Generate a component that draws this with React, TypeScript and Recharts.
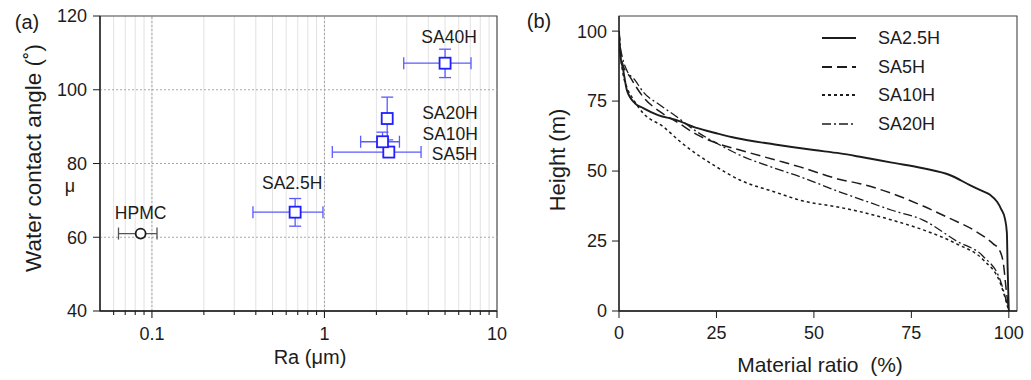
import React from "react";
import {
  CartesianGrid,
  ErrorBar,
  Legend,
  Line,
  LineChart,
  ReferenceArea,
  ReferenceLine,
  Scatter,
  ScatterChart,
  XAxis,
  YAxis,
} from "recharts";

const FONT = '"Liberation Sans", Arial, sans-serif';
const INK = "#1c1c1c";
const BLUE = "#1f1fff";
const BLUE_BAR = "#5a5aff";

// (a) water contact angle vs. Ra
const samples = ["HPMC", "SA2.5H", "SA5H", "SA10H", "SA20H", "SA40H"];
const raMean = [0.086, 0.676, 2.36, 2.17, 2.31, 5.0];
const raLow = [0.064, 0.385, 1.11, 1.62, 2.31, 2.88];
const raHigh = [0.107, 0.98, 3.63, 2.72, 2.31, 7.07];
const wcaMean = [61, 66.8, 83.1, 85.9, 92.2, 107.2];
const wcaLow = [61, 63, 82, 84.5, 86.4, 103.3];
const wcaHigh = [61, 70.5, 84, 88.5, 98, 111];

const raMajorTicks = [0.1, 1, 10];
const raMinorTicks = [
  0.06, 0.07, 0.08, 0.09, 0.2, 0.3, 0.4, 0.5, 0.6, 0.7, 0.8, 0.9, 2, 3, 4, 5,
  6, 7, 8, 9,
];
const wcaTicks = [40, 60, 80, 100, 120];
const wcaGrid = [60, 80, 100];

// (b) bearing-area curves
const ratioTicks = [0, 25, 50, 75, 100];
const heightTicks = [0, 25, 50, 75, 100];

const ratioSA25 = [0, 0.3, 1.1, 2, 4.1, 6.2, 10, 14.8, 19.9, 25, 30, 40, 50, 56.7, 61.8, 70, 78, 85, 90, 93, 95.2, 97, 98, 99, 99.5, 99.7, 100];
const heightSA25 = [100, 92, 86, 79, 74.2, 72.5, 70, 68.2, 65.4, 63.5, 61.8, 59.5, 57.5, 56.3, 55.1, 53, 51, 48.5, 45, 43, 41.5, 39, 36.5, 33, 28, 15, 0];
const ratioSA5 = [0, 0.3, 1, 2.8, 6.2, 10.5, 14.8, 20, 25, 31, 40, 46.4, 56.7, 61.8, 70, 78, 85, 90.9, 96, 97.5, 98.6, 99.3, 100];
const heightSA5 = [100, 94, 88, 83.7, 76.5, 71.2, 67.6, 63, 60, 57.5, 54, 51.5, 47, 45.5, 42, 37.5, 33, 29, 24, 22, 17, 8, 0];
const ratioSA10 = [0, 0.3, 1, 2, 3.5, 6.2, 11.4, 15.7, 20, 25, 31, 40, 46.4, 56.7, 61.8, 70, 78, 86.6, 93.5, 97.8, 100];
const heightSA10 = [100, 93, 85, 80, 76, 70.7, 65.8, 60.5, 56, 51.5, 46.8, 42.5, 39.6, 37, 35.5, 32.5, 29, 24, 18.2, 10, 0];
const ratioSA20 = [0, 0.3, 1, 2, 4.1, 6.2, 10.5, 14.8, 20, 25, 31, 40, 46.4, 56.7, 61.8, 70, 78, 86.6, 93.5, 97.8, 100];
const heightSA20 = [100, 95, 90, 86, 82.5, 78.3, 73.6, 69.4, 64, 60, 55.7, 51, 48, 42.5, 40, 36, 32.5, 25, 19.4, 11, 0];

const zip = (xs: number[], ys: number[]) => xs.map((x, i) => ({ x, y: ys[i] }));

const pointsA = samples.map((name, i) => ({
  name,
  x: raMean[i],
  y: wcaMean[i],
  xErr: [raMean[i] - raLow[i], raHigh[i] - raMean[i]],
  yErr: [wcaMean[i] - wcaLow[i], wcaHigh[i] - wcaMean[i]],
}));
const hpmc = pointsA.filter((p) => p.name === "HPMC");
const treated = pointsA.filter((p) => p.name !== "HPMC");

const curves = [
  { name: "SA2.5H", data: zip(ratioSA25, heightSA25), dash: undefined, width: 1.9 },
  { name: "SA5H", data: zip(ratioSA5, heightSA5), dash: "10 5", width: 1.5 },
  { name: "SA10H", data: zip(ratioSA10, heightSA10), dash: "3 3", width: 1.5 },
  { name: "SA20H", data: zip(ratioSA20, heightSA20), dash: "9 3 2 3", width: 1.3 },
];

// where each sample name sits relative to its marker
const labelPlacement: Record<string, { dx: number; dy: number; anchor: "start" | "middle" }> = {
  HPMC: { dx: 0, dy: -21, anchor: "middle" },
  "SA2.5H": { dx: -3, dy: -29, anchor: "middle" },
  SA5H: { dx: 43, dy: 2, anchor: "start" },
  SA10H: { dx: 40, dy: -8, anchor: "start" },
  SA20H: { dx: 35, dy: -6, anchor: "start" },
  SA40H: { dx: 4, dy: -26, anchor: "middle" },
};

function PointLabel({ cx, cy, name }: { cx: number; cy: number; name: string }) {
  const p = labelPlacement[name];
  return (
    <text x={cx + p.dx} y={cy + p.dy} dy="0.35em" textAnchor={p.anchor} fontSize={17.5} fontFamily={FONT} fill={INK}>
      {name}
    </text>
  );
}

function SquareMark(props: any) {
  const { cx, cy, payload } = props;
  return (
    <g>
      <rect x={cx - 5.5} y={cy - 5.5} width={11} height={11} fill="#fff" stroke={BLUE} strokeWidth={1.8} />
      <PointLabel cx={cx} cy={cy} name={payload.name} />
    </g>
  );
}

function CircleMark(props: any) {
  const { cx, cy, payload } = props;
  return (
    <g>
      <circle cx={cx} cy={cy} r={5} fill="#fff" stroke={INK} strokeWidth={1.8} />
      <PointLabel cx={cx} cy={cy} name={payload.name} />
    </g>
  );
}

function LogTick(props: any) {
  const { x, y, payload } = props;
  const major = raMajorTicks.includes(payload.value);
  return (
    <g>
      <line x1={x} y1={y} x2={x} y2={y + (major ? 7 : 4)} stroke={INK} strokeWidth={1.1} />
      {major && (
        <text x={x} y={y + 28.5} textAnchor="middle" fontSize={18} fontFamily={FONT} fill={INK}>
          {payload.value}
        </text>
      )}
    </g>
  );
}

const tickStyle = { fontSize: 18, fontFamily: FONT, fill: INK };

function PanelA() {
  return (
    <ScatterChart width={520} height={380} margin={{ top: 16, right: 23, bottom: 0, left: 0 }}>
      <CartesianGrid horizontal={false} stroke="#e2e2e2" strokeWidth={1} />
      {raMajorTicks.slice(0, 2).map((v) => (
        <ReferenceLine key={v} x={v} stroke="#a8a8a8" strokeDasharray="2 2" />
      ))}
      {wcaGrid.map((v) => (
        <ReferenceLine key={v} y={v} stroke="#a8a8a8" strokeDasharray="2 2" />
      ))}
      <ReferenceArea x1={0.05} x2={10} y1={40} y2={120} fill="none" stroke="#444" strokeWidth={1.1} />
      <XAxis
        type="number"
        dataKey="x"
        scale="log"
        domain={[0.05, 10]}
        allowDataOverflow
        ticks={[...raMinorTicks, ...raMajorTicks].sort((a, b) => a - b)}
        interval={0}
        tick={<LogTick />}
        tickLine={false}
        tickSize={0}
        tickMargin={0}
        height={69}
        axisLine={{ stroke: INK, strokeWidth: 1.3 }}
        label={{
          content: () => (
            <text x={310} y={364} textAnchor="middle" fontSize={20} fontFamily={FONT} fill={INK}>
              Ra (μm)
            </text>
          ),
        }}
      />
      <YAxis
        type="number"
        dataKey="y"
        domain={[40, 120]}
        ticks={wcaTicks}
        width={100}
        tick={tickStyle}
        tickSize={7}
        tickMargin={6}
        tickLine={{ stroke: INK }}
        axisLine={{ stroke: INK, strokeWidth: 1.3 }}
        label={{
          content: () => (
            <g fontFamily={FONT} fill={INK}>
              <text x={27} y={29} fontSize={20} textAnchor="middle">(a)</text>
              <text transform="translate(41,158) rotate(-90)" textAnchor="middle" fontSize={22.5}>
                Water contact angle (˚)
              </text>
              <text x={70} y={192} fontSize={18} textAnchor="middle">μ</text>
            </g>
          ),
        }}
      />
      <Scatter data={hpmc} shape={<CircleMark />} isAnimationActive={false}>
        <ErrorBar dataKey="xErr" direction="x" width={6} stroke="#555" strokeWidth={1.3} />
      </Scatter>
      <Scatter data={treated} shape={<SquareMark />} isAnimationActive={false}>
        <ErrorBar dataKey="xErr" direction="x" width={6} stroke={BLUE_BAR} strokeWidth={1.3} />
        <ErrorBar dataKey="yErr" direction="y" width={6} stroke={BLUE_BAR} strokeWidth={1.3} />
      </Scatter>
    </ScatterChart>
  );
}

function CurveLegend() {
  return (
    <div style={{ fontFamily: FONT, fontSize: 18, color: INK }}>
      {curves.map((c) => (
        <div key={c.name} style={{ display: "flex", alignItems: "center", height: 28.5 }}>
          <svg width={34} height={10} style={{ display: "block" }}>
            <line x1={0} y1={5} x2={34} y2={5} stroke={INK} strokeWidth={c.width + 0.3} strokeDasharray={c.dash} />
          </svg>
          <span style={{ marginLeft: 22, lineHeight: "20px" }}>{c.name}</span>
        </div>
      ))}
    </div>
  );
}

function PanelB() {
  return (
    <LineChart width={511} height={380} margin={{ top: 16, right: 14, bottom: 0, left: 0 }}>
      <ReferenceArea x1={0} x2={102.1} y1={0} y2={105.4} fill="none" stroke="#444" strokeWidth={1.1} />
      <XAxis
        type="number"
        dataKey="x"
        domain={[0, 102.1]}
        ticks={ratioTicks}
        allowDataOverflow
        height={69}
        tick={tickStyle}
        tickSize={7}
        tickMargin={8}
        tickLine={{ stroke: INK }}
        axisLine={{ stroke: INK, strokeWidth: 1.3 }}
        label={{
          content: () => (
            <text x={300} y={372} textAnchor="middle" fontSize={21} fontFamily={FONT} fill={INK} style={{ whiteSpace: "pre" }}>
              {"Material ratio  (%)"}
            </text>
          ),
        }}
      />
      <YAxis
        type="number"
        dataKey="y"
        domain={[0, 105.4]}
        ticks={heightTicks}
        allowDataOverflow
        width={99}
        tick={tickStyle}
        tickSize={7}
        tickMargin={5}
        tickLine={{ stroke: INK }}
        axisLine={{ stroke: INK, strokeWidth: 1.3 }}
        label={{
          content: () => (
            <g fontFamily={FONT} fill={INK}>
              <text x={19} y={28} fontSize={20} textAnchor="middle">(b)</text>
              <text transform="translate(45,160) rotate(-90)" textAnchor="middle" fontSize={22}>
                Height (m)
              </text>
            </g>
          ),
        }}
      />
      <Legend
        layout="vertical"
        align="center"
        verticalAlign="middle"
        content={() => <CurveLegend />}
        wrapperStyle={{ position: "absolute", left: 302, top: 24, width: 170 }}
      />
      {curves.map((c) => (
        <Line
          key={c.name}
          name={c.name}
          data={c.data}
          dataKey="y"
          type="monotone"
          stroke={INK}
          strokeWidth={c.width}
          strokeDasharray={c.dash}
          dot={false}
          activeDot={false}
          isAnimationActive={false}
        />
      ))}
    </LineChart>
  );
}

export default function App() {
  return (
    <div style={{ position: "absolute", left: 0, top: 0, width: 1031, height: 380, background: "#fff" }}>
      <div style={{ position: "absolute", left: 0, top: 0 }}>
        <PanelA />
      </div>
      <div style={{ position: "absolute", left: 520, top: 0 }}>
        <PanelB />
      </div>
    </div>
  );
}
